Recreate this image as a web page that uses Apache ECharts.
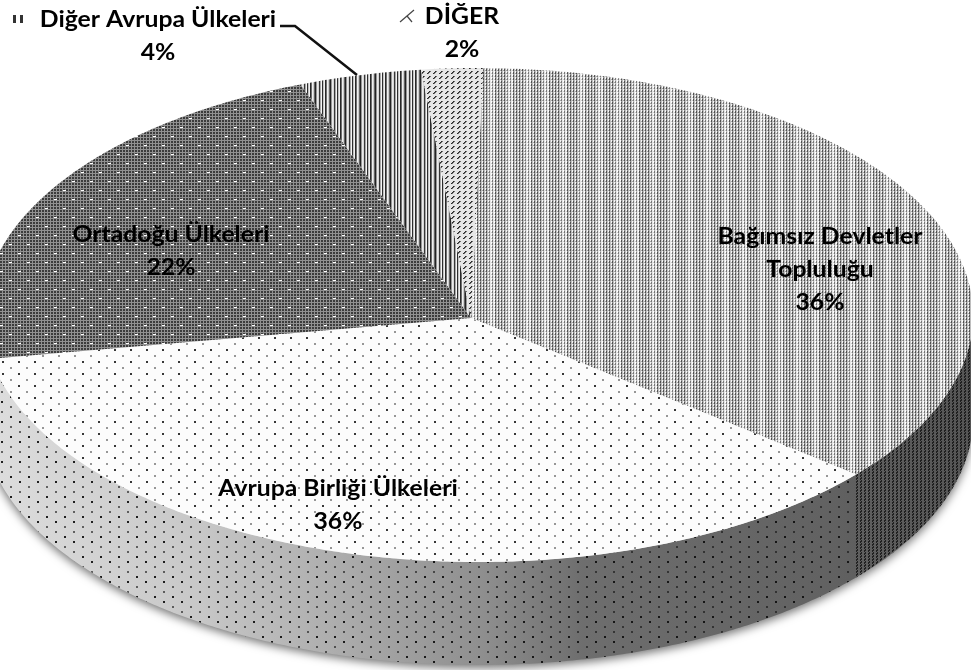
<!DOCTYPE html>
<html>
<head>
<meta charset="utf-8">
<script src="https://cdn.jsdelivr.net/npm/echarts@6/dist/echarts.min.js"></script>
<style>
  html, body { margin: 0; padding: 0; background: #fff; overflow: hidden; }
  #main { width: 971px; height: 670px; filter: blur(0.4px); }
</style>
</head>
<body>
<div id="main"></div>
<script>
const names = ['Bağımsız Devletler\nTopluluğu', 'Avrupa Birliği Ülkeleri', 'Ortadoğu Ülkeleri', 'Diğer Avrupa Ülkeleri', 'DİĞER'];
const values = [36, 36, 22, 4, 2];

// ellipse of the tilted pie, angles run clockwise from 12 o'clock
const pie = { cx: 478, cy: 315, rx: 495, ry: 247, depth: 103, start: 0.6, apexX: 471, apexY: 318 };
const labelPos = [[820, 270], [338, 505], [171, 251], [158, 36], [462, 33]];

// small pixel tile -> canvas, used as image fill
function tile(w, h, fn) {
  const c = document.createElement('canvas');
  c.width = w;
  c.height = h;
  const ctx = c.getContext('2d');
  const img = ctx.createImageData(w, h);
  for (let y = 0; y < h; y++) {
    for (let x = 0; x < w; x++) {
      const p = fn(x, y);
      const g = Array.isArray(p) ? p[0] : p;
      const i = (y * w + x) * 4;
      img.data[i] = img.data[i + 1] = img.data[i + 2] = g;
      img.data[i + 3] = Array.isArray(p) ? p[1] : 255;
    }
  }
  ctx.putImageData(img, 0, 0);
  return { image: c, repeat: 'repeat' };
}

function dot(x, y, px, py, g, bg) {
  if ((x === px || x === px + 1) && (y === py || y === py + 1)) return g;
  return bg;
}

const stripeCols = [35, 150, 235, 215, 55, 170, 245, 45, 195, 240, 40, 110, 240, 205, 100];
const topFills = [
  tile(18, 6, (x, y) => {
    const col = x % 3, row = (y + (Math.floor(x / 3) % 2) * 3) % 3;
    let g = col === 0 ? (row === 2 ? 150 : 80) : col === 1 ? 190 : (row === 1 ? 165 : 245);
    if (x >= 3 && x < 9) g = Math.min(255, g + 40);
    return g;
  }),
  tile(16, 12, (x, y) => {
    const a = dot(x, y, 2, 1, 55, 252);
    return a !== 252 ? a : dot(x, y, 10, 7, 150, 252);
  }),
  tile(18, 18, (x, y) => {
    if (y === 1 && x <= 2) return 255;
    if (y === 10 && x >= 9 && x <= 11) return 255;
    return (x % 3 === 2 || y % 3 === 2) ? 145 : 60;
  }),
  tile(15, 1, (x) => stripeCols[x]),
  tile(6, 5, (x, y) => {
    if ((y === 1 && x === 3) || (y === 2 && x === 2) || (y === 3 && x === 1)) return 40;
    if ((y === 2 && x === 3) || (y === 3 && x === 2) || (y === 1 && x === 4)) return 110;
    return 230;
  })
];

const wallDots = tile(18, 20, (x, y) => {
  const a = (px, py, al) => (x === px || x === px + 1) && (y === py || y === py + 1) ? al : 0;
  const al = Math.max(a(1, 1, 235), a(10, 6, 150), a(1, 11, 150), a(10, 16, 235));
  return [15, al];
});
const wallStripes = tile(4, 6, (x, y) => {
  const row = (y + x) % 3;
  return [15, x % 4 < 2 && row !== 0 ? 200 : 0];
});
const wallFills = [wallStripes, wallDots, wallDots, null, null];

const wallGradient = {
  type: 'linear', x: 0, y: 0, x2: 971, y2: 0, global: true,
  colorStops: [
    { offset: 0, color: '#dcdcdc' },
    { offset: 0.2, color: '#c8c8c8' },
    { offset: 0.33, color: '#b0b0b0' },
    { offset: 0.5, color: '#8e8e8e' },
    { offset: 0.6, color: '#6e6e6e' },
    { offset: 0.85, color: '#626262' },
    { offset: 1, color: '#555555' }
  ]
};

function rim(deg, dy) {
  const a = deg * Math.PI / 180;
  return [pie.cx + pie.rx * Math.sin(a), pie.cy - pie.ry * Math.cos(a) + (dy || 0)];
}

function arc(from, to, dy) {
  const pts = [];
  const steps = Math.max(2, Math.ceil((to - from) / 0.5));
  for (let i = 0; i <= steps; i++) pts.push(rim(from + (to - from) * i / steps, dy));
  return pts;
}

function wallShape(from, to) {
  return arc(from, to, 0).concat(arc(from, to, pie.depth).reverse());
}

const total = values.reduce((a, b) => a + b, 0);

function renderSlice(params, api) {
  const i = params.dataIndex;
  let sum = 0;
  for (let k = 0; k < i; k++) sum += values[k];
  const from = pie.start + sum / total * 360;
  const to = from + api.value(0) / total * 360;
  const children = [];

  // one gradient wall with the soft shadow under it
  if (i === 0) {
    children.push({
      type: 'polygon', z2: 1, shape: { points: wallShape(90, 270) },
      style: { fill: wallGradient, shadowBlur: 10, shadowColor: 'rgba(0,0,0,0.55)', shadowOffsetY: 3 }
    });
  }

  // pattern on the front wall only between 3 and 9 o'clock
  const wFrom = Math.max(from, 90), wTo = Math.min(to, 270);
  if (wTo > wFrom && wallFills[i]) {
    children.push({ type: 'polygon', z2: 2, shape: { points: wallShape(wFrom, wTo) }, style: { fill: wallFills[i] } });
  }

  children.push({
    type: 'polygon', z2: 3,
    shape: { points: [[pie.apexX, pie.apexY]].concat(arc(from, to, 0)) },
    style: { fill: topFills[i] }
  });

  children.push({
    type: 'text', z2: 6, x: labelPos[i][0], y: labelPos[i][1], scaleX: 1.1,
    style: {
      text: names[i] + '\n' + api.value(0) + '%',
      fill: '#000', font: 'bold 22.5px Lato', lineHeight: 33,
      align: 'center', verticalAlign: 'middle'
    }
  });
  return { type: 'group', children: children };
}

// leader line and the little legend keys inside the labels
const leader = [[280, 26], [295, 26], [357, 75]];
const keyBars = [[13, 15, 3, 8], [20, 15, 3, 8]];
const keyCross = [[[400, 22], [414, 10]], [[407, 16], [412, 22]]];
const keyRects = [[689, 230, 11, 13, 0], [45, 229, 16, 14, 2]];

const graphicEls = [
  { type: 'polyline', z: 10, shape: { points: leader }, style: { stroke: '#111', lineWidth: 2.5, fill: null } }
];
keyBars.forEach(b => graphicEls.push({
  type: 'rect', z: 10, shape: { x: b[0], y: b[1], width: b[2], height: b[3] }, style: { fill: '#333' }
}));
keyCross.forEach(l => graphicEls.push({
  type: 'line', z: 10, shape: { x1: l[0][0], y1: l[0][1], x2: l[1][0], y2: l[1][1] },
  style: { stroke: '#444', lineWidth: 1.2 }
}));
keyRects.forEach(r => graphicEls.push({
  type: 'rect', z: 10, shape: { x: r[0], y: r[1], width: r[2], height: r[3] }, style: { fill: topFills[r[4]] }
}));

const chart = echarts.init(document.getElementById('main'), null, { renderer: 'canvas' });
chart.setOption({
  animation: false,
  backgroundColor: '#fff',
  tooltip: { show: false },
  graphic: { elements: graphicEls },
  series: [{
    type: 'custom',
    coordinateSystem: 'none',
    silent: true,
    clip: false,
    renderItem: renderSlice,
    data: values.map(v => [v])
  }]
});
</script>
</body>
</html>
